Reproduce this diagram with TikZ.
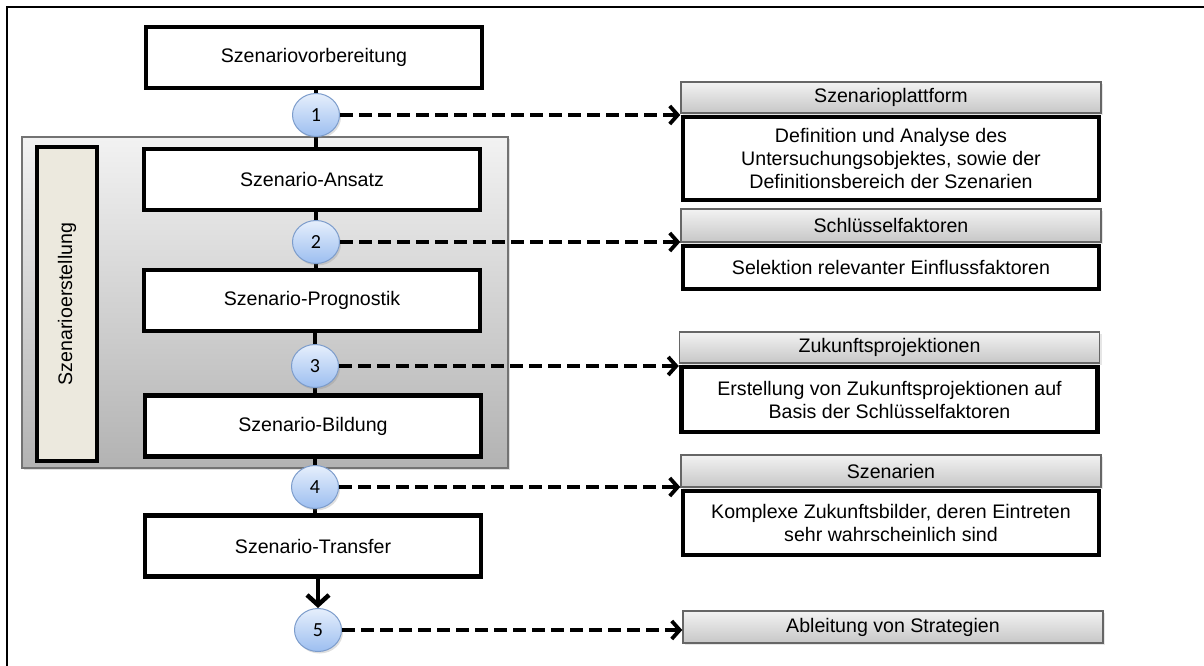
\documentclass[tikz,border=0pt]{standalone}
\usepackage{fontspec}
\setmainfont{Liberation Sans}
\newfontfamily\numfont{Carlito}
\usetikzlibrary{arrows.meta,shapes.geometric,shadows}
\definecolor{beige}{HTML}{ECE9DE}
\definecolor{circtop}{HTML}{E6EFFC}
\definecolor{circbot}{HTML}{9CBEF0}
\definecolor{circline}{HTML}{7C9CCB}
\tikzset{
  txt/.style={font=\fontsize{19.6}{23}\selectfont},
  mainbox/.style={txt, draw, line width=4.5pt, fill=white, minimum width=336pt, minimum height=61pt, inner sep=0pt,
     drop shadow={opacity=0.25, shadow xshift=2pt, shadow yshift=-2pt}},
  circ/.style={ellipse, draw=circline, line width=1pt, top color=circtop, bottom color=circbot,
     minimum width=47pt, minimum height=43pt, inner sep=0pt, font=\numfont\fontsize{20}{22}\selectfont,
     drop shadow={opacity=0.25, shadow xshift=1.5pt, shadow yshift=-2pt}},
  header/.style={txt, draw=black!60, line width=1.5pt, top color=black!5, bottom color=black!22,
     minimum width=420pt, inner sep=0pt, drop shadow={opacity=0.2, shadow xshift=2pt, shadow yshift=-2pt}},
  bodybox/.style={txt, draw, line width=4.5pt, fill=white, minimum width=416pt, inner sep=0pt, align=center},
  conn/.style={line width=4.5pt},
  dasharrow/.style={line width=3.8pt, dash pattern=on 13pt off 6pt, -{Straight Barb[length=8pt,width=18pt,line width=3.8pt]}},
}
\begin{document}
\begin{tikzpicture}[x=1pt,y=-1pt]
\useasboundingbox (0,0) rectangle (1204,666);
\clip (0,0) rectangle (1204,666);
\draw[line width=2.5pt] (7,700) -- (7,7) -- (1230,7);
% container
\node[draw=black!55, line width=1.2pt, top color=black!5, bottom color=black!30, minimum width=486pt, minimum height=331pt,
  drop shadow={opacity=0.25, shadow xshift=2pt, shadow yshift=-2pt}] (cont) at (265,302.5) {};
\node[draw, line width=4.5pt, fill=beige, minimum width=60pt, minimum height=314pt] (side) at (67,304) {};
\node[txt, rotate=90] (sidelbl) at (67,304) {Szenarioerstellung};
% main boxes
\node[mainbox] (vorb) at (314,57.5) {Szenariovorbereitung};
\node[mainbox] (ansatz) at (312,179.5) {Szenario-Ansatz};
\node[mainbox] (progn) at (312,300.5) {Szenario-Prognostik};
\node[mainbox] (bild) at (313,426) {Szenario-Bildung};
\node[mainbox] (transfer) at (313,546) {Szenario-Transfer};
% vertical connectors
\draw[conn] (vorb.south -| 316,0) -- (ansatz.north -| 316,0);
\draw[conn] (ansatz.south -| 316,0) -- (progn.north -| 316,0);
\draw[conn] (progn.south -| 315,0) -- (bild.north -| 315,0);
\draw[conn] (bild.south -| 315,0) -- (transfer.north -| 315,0);
% circles
\node[circ] (c1) at (316,115) {1};
\node[circ] (c2) at (316,242) {2};
\node[circ] (c3) at (315,366) {3};
\node[circ] (c4) at (315,487) {4};
\node[circ] (c5) at (318,630) {5};
\draw[line width=4.5pt, -{Straight Barb[length=10pt,width=22pt,line width=4.5pt]}] (transfer.south -| c5) -- (c5.north);
% right boxes
\node[header, minimum height=31pt] (h1) at (891,97.5) {Szenarioplattform};
\node[bodybox, minimum height=83pt, anchor=north] (b1) at ([yshift=-1pt]h1.south) {Definition und Analyse des\\Untersuchungsobjektes, sowie der\\Definitionsbereich der Szenarien};
\node[header, minimum height=33pt] (h2) at (891,225.5) {Schlüsselfaktoren};
\node[bodybox, minimum height=43pt, anchor=north] (b2) at ([yshift=-1pt]h2.south) {Selektion relevanter Einflussfaktoren};
\node[header, minimum height=31pt] (h3) at (889.5,347.5) {Zukunftsprojektionen};
\node[bodybox, minimum height=65pt, anchor=north] (b3) at ([yshift=-1pt]h3.south) {Erstellung von Zukunftsprojektionen auf\\Basis der Schlüsselfaktoren};
\node[header, minimum height=32pt] (h4) at (891,471) {Szenarien};
\node[bodybox, minimum height=64pt, anchor=north] (b4) at ([yshift=-1pt]h4.south) {Komplexe Zukunftsbilder, deren Eintreten\\sehr wahrscheinlich sind};
\node[header, minimum height=32pt] (h5) at (893,627) {Ableitung von Strategien};
% dashed arrows
\draw[dasharrow] (c1.east) -- (c1.east -| h1.south west);
\draw[dasharrow] (c2.east) -- (c2.east -| h2.south west);
\draw[dasharrow] (c3.east) -- (c3.east -| h3.south west);
\draw[dasharrow] (c4.east) -- (c4.east -| h4.south west);
\draw[dasharrow] (c5.east) -- (c5.east -| h5.west);
\end{tikzpicture}
\end{document}
